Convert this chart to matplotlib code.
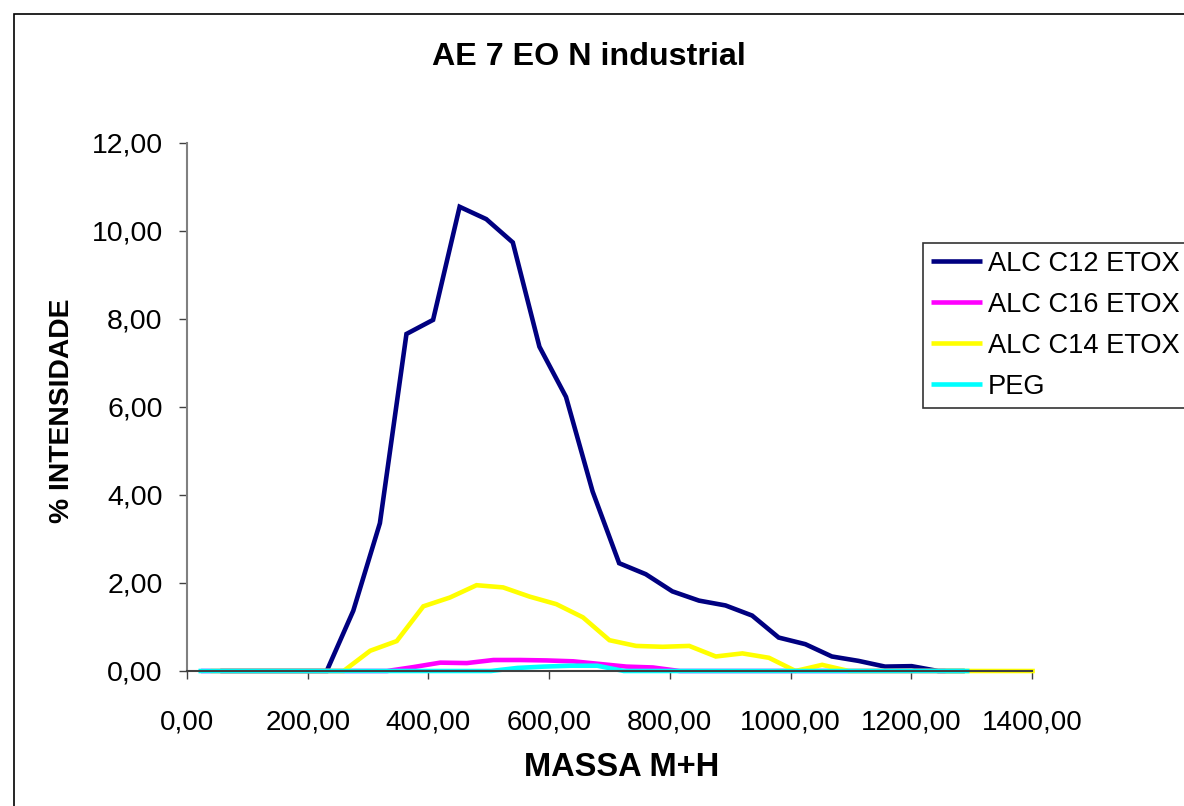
import matplotlib
matplotlib.use("Agg")
import matplotlib.pyplot as plt
from matplotlib.patches import Rectangle

plt.rcParams['font.family'] = ['Liberation Sans', 'DejaVu Sans']

# Ion masses (M+H) and relative intensities for each ethoxylate family
c12_mass = [55.2, 99.3, 143.4, 187.4, 231.5, 275.5, 319.6, 363.6, 407.7, 451.7,
            495.8, 539.8, 583.9, 627.9, 672.0, 716.0, 760.1, 804.1, 848.2, 892.2,
            936.3, 980.3, 1024.4, 1068.4, 1112.5, 1156.5, 1200.6, 1244.6, 1288.7]
c12_int = [0.00, 0.00, 0.00, 0.00, 0.00, 1.37, 3.36, 7.66, 7.98, 10.55,
           10.27, 9.74, 7.37, 6.23, 4.08, 2.45, 2.20, 1.81, 1.60, 1.49,
           1.26, 0.76, 0.61, 0.33, 0.23, 0.10, 0.11, 0.00, 0.00]

c16_mass = [23.2, 67.2, 111.3, 155.3, 199.4, 243.4, 287.5, 331.5, 375.6, 419.6,
            463.7, 507.7, 551.8, 595.8, 639.9, 683.9, 728.0, 772.0, 816.1, 860.1,
            904.2, 948.2, 992.3, 1036.3, 1080.4, 1124.4, 1168.5, 1212.5, 1256.6]
c16_int = [0.00, 0.00, 0.00, 0.00, 0.00, 0.00, 0.00, 0.00, 0.09, 0.19,
           0.18, 0.25, 0.25, 0.24, 0.22, 0.16, 0.10, 0.08, 0.00, 0.00,
           0.00, 0.00, 0.00, 0.00, 0.00, 0.00, 0.00, 0.00, 0.00]

c14_mass = [39.2, 83.2, 127.3, 171.3, 215.4, 259.4, 303.5, 347.5, 391.6, 435.6,
            479.7, 523.7, 567.8, 611.8, 655.9, 699.9, 744.0, 788.0, 832.1, 876.1,
            920.2, 964.2, 1008.3, 1052.3, 1096.4, 1140.4, 1184.5, 1228.5, 1272.6,
            1316.6, 1360.7, 1404.7]
c14_int = [0.00, 0.00, 0.00, 0.00, 0.00, 0.00, 0.46, 0.68, 1.47, 1.67,
           1.95, 1.90, 1.69, 1.52, 1.22, 0.70, 0.57, 0.55, 0.57, 0.33,
           0.40, 0.30, 0.00, 0.14, 0.00, 0.00, 0.00, 0.00, 0.00,
           0.00, 0.00, 0.00]

peg_mass = [19.0, 63.1, 107.1, 151.2, 195.2, 239.3, 283.3, 327.4, 371.4, 415.5,
            459.5, 503.6, 547.6, 591.7, 635.7, 679.8, 723.8, 767.9, 811.9, 856.0,
            900.0, 944.1, 988.1, 1032.2, 1076.2, 1120.3, 1164.3, 1208.4, 1252.4, 1296.5]
peg_int = [0.00, 0.00, 0.00, 0.00, 0.00, 0.00, 0.00, 0.00, 0.00, 0.00,
           0.00, 0.00, 0.07, 0.10, 0.12, 0.12, 0.00, 0.00, 0.00, 0.00,
           0.00, 0.00, 0.00, 0.00, 0.00, 0.00, 0.00, 0.00, 0.00, 0.00]

series_labels = ["ALC C12 ETOX", "ALC C16 ETOX", "ALC C14 ETOX", "PEG"]
series_colors = ["#000080", "#FF00FF", "#FFFF00", "#00FFFF"]

x_ticks = [0, 200, 400, 600, 800, 1000, 1200, 1400]
x_tick_labels = ["0,00", "200,00", "400,00", "600,00", "800,00", "1000,00", "1200,00", "1400,00"]
y_ticks = [0, 2, 4, 6, 8, 10, 12]
y_tick_labels = ["0,00", "2,00", "4,00", "6,00", "8,00", "10,00", "12,00"]

W, H = 1184, 806
fig = plt.figure(figsize=(W / 100, H / 100), dpi=100)
fig.patch.set_facecolor("white")

# plot area in pixel coordinates
left_px, right_px, top_px, bottom_px = 187, 1032, 143, 671
ax = fig.add_axes([left_px / W, 1 - bottom_px / H,
                   (right_px - left_px) / W, (bottom_px - top_px) / H])

datasets = [(c12_mass, c12_int), (c16_mass, c16_int), (c14_mass, c14_int), (peg_mass, peg_int)]
for (xs, ys), lab, col in zip(datasets, series_labels, series_colors):
    ax.plot(xs, ys, color=col, lw=3.3, label=lab, solid_capstyle="butt",
            solid_joinstyle="miter", clip_on=False)

ax.set_xlim(0, 1400)
ax.set_ylim(0, 12)
ax.set_xticks(x_ticks)
ax.set_xticklabels(x_tick_labels)
ax.set_yticks(y_ticks)
ax.set_yticklabels(y_tick_labels)

for s in ("top", "right"):
    ax.spines[s].set_visible(False)
ax.spines["left"].set_color("#808080")
ax.spines["left"].set_linewidth(1.5)
ax.spines["bottom"].set_color("#404040")
ax.spines["bottom"].set_linewidth(1.5)

ax.tick_params(axis="x", direction="out", length=5.5, width=1, color="#404040",
               labelsize=20, pad=22)
ax.tick_params(axis="y", direction="out", length=5.5, width=1, color="#404040",
               labelsize=20.5, pad=12)

fig.text(589 / W, 1 - 57 / H, "AE 7 EO N industrial", ha="center", va="center",
         fontsize=23.2, fontweight="bold")
fig.text(622 / W, 1 - 768 / H, "MASSA M+H", ha="center", va="center",
         fontsize=23.5, fontweight="bold")
fig.text(62 / W, 1 - 411 / H, "% INTENSIDADE", ha="center", va="center",
         rotation=90, fontsize=20.3, fontweight="bold")

leg = fig.legend(loc="upper left", bbox_to_anchor=(922.5 / W, 1 - 242.5 / H),
                 bbox_transform=fig.transFigure, fontsize=19.6, frameon=True,
                 fancybox=False, shadow=False, handlelength=1.9, handletextpad=0.2,
                 borderpad=0.3, labelspacing=0.55, borderaxespad=0)
leg.get_frame().set_edgecolor("black")
leg.get_frame().set_linewidth(1.2)
for line in leg.get_lines():
    line.set_linewidth(3.3)

# outer chart border
fig.patches.append(Rectangle((14 / W, -0.5), 2.0, 1 - 14 / H + 0.5,
                             transform=fig.transFigure, fill=False,
                             edgecolor="black", linewidth=1.2))

fig.savefig("out.png", dpi=100)
